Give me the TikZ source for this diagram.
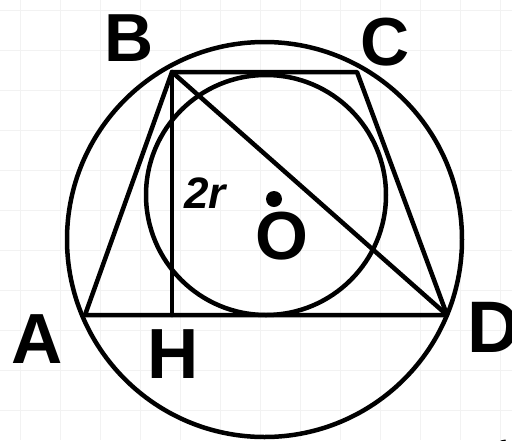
\documentclass[tikz,border=0pt]{standalone}
\usepackage{fontspec}
\setmainfont{Liberation Sans}
\begin{document}
\begin{tikzpicture}[x=1pt,y=-1pt,
  geo/.style={line width=4.5pt,line join=round,line cap=round},
  lbl/.style={inner sep=0pt,font=\fontsize{68}{68}\selectfont\bfseries},
  gridline/.style={draw=black!5,line width=1pt}]
\useasboundingbox (0,0) rectangle (512,440);
\fill[white] (0,0) rectangle (512,440);
\foreach \gx in {20,60,...,500} \draw[gridline] (\gx,0) -- (\gx,440);
\foreach \gy in {10,50,...,430} \draw[gridline] (0,\gy) -- (512,\gy);
\coordinate (A) at (85,315);
\coordinate (B) at (172,72);
\coordinate (C) at (357,72);
\coordinate (D) at (447,315);
\coordinate (H) at (172,315);
\coordinate (O) at (274,199);
\coordinate (Oc) at (264.5,239.5);
\coordinate (Ic) at (266,195);
\draw[geo] (Oc) circle[radius=197.5];
\draw[geo] (Ic) circle[radius=120];
\draw[geo] (A) -- (B) -- (C) -- (D) -- cycle;
\draw[geo] (B) -- (D);
\draw[geo] (B) -- (H);
\fill (O) circle[radius=8pt];
\node[lbl] (lB) at (129,38) {B};
\node[lbl] (lC) at (385,42) {C};
\node[lbl,font=\fontsize{71}{71}\selectfont\bfseries] (lA) at (37,339) {A};
\node[lbl,font=\fontsize{71}{71}\selectfont\bfseries] (lH) at (173,354) {H};
\node[lbl,font=\fontsize{73}{73}\selectfont\bfseries] (lD) at (494,327) {D};
\node[lbl,font=\fontsize{68}{68}\selectfont\bfseries] (lO) at (282,236) {O};
\node[inner sep=0pt,font=\fontsize{44}{44}\selectfont\bfseries\itshape] (l2r) at (205,193) {2r};
\draw[line width=5pt] (503,440) arc[start angle=180,end angle=60,radius=12];
\end{tikzpicture}
\end{document}
